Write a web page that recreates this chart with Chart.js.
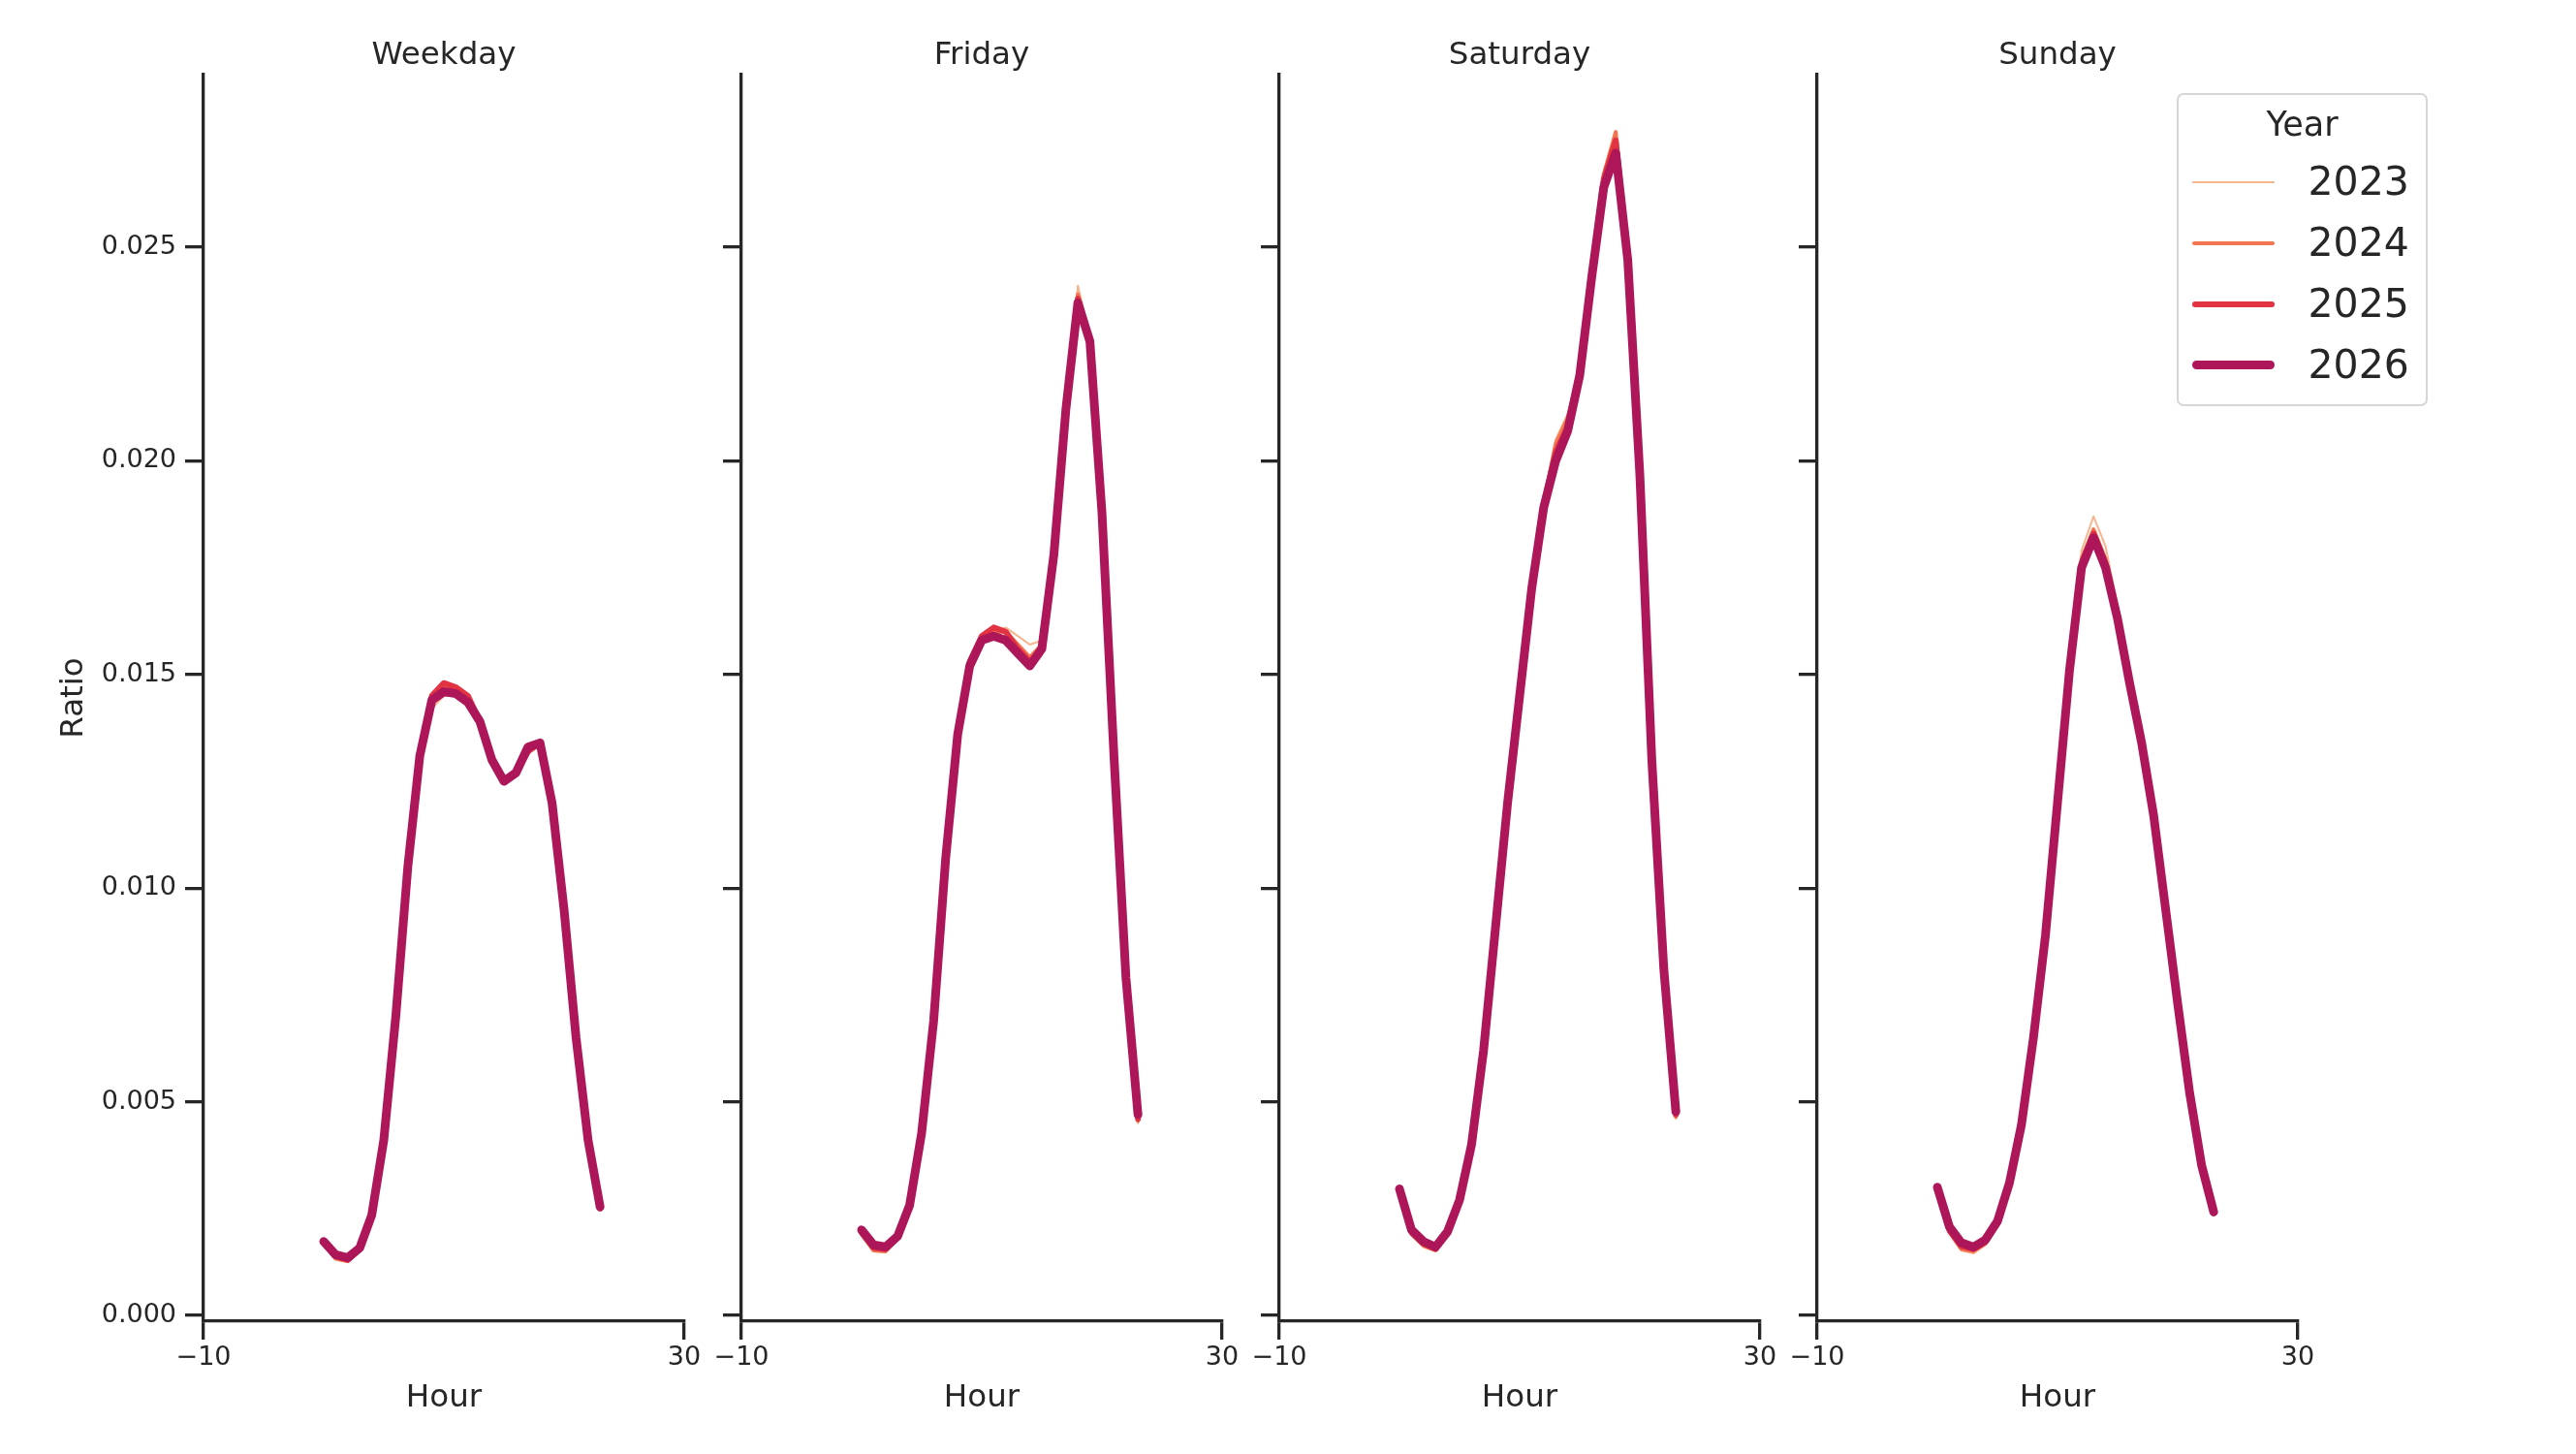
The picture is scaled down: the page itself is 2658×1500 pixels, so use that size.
<!DOCTYPE html>
<html>
<head>
<meta charset="utf-8">
<script src="https://cdn.jsdelivr.net/npm/chart.js@4.4.1/dist/chart.umd.min.js"></script>
<style>
  html, body { margin: 0; padding: 0; background: #fff; }
  #wrap { position: relative; width: 2658px; height: 1500px; overflow: hidden; font-family: 'DejaVu Sans', sans-serif; color: #262626; }
  #wrap canvas { position: absolute; top: 0; }
</style>
</head>
<body>
<div id="wrap"></div>
<script>
const hours = [0, 1, 2, 3, 4, 5, 6, 7, 8, 9, 10, 11, 12, 13, 14, 15, 16, 17, 18, 19, 20, 21, 22, 23];
const years = ['2023', '2024', '2025', '2026'];
const dayTypes = ['Weekday', 'Friday', 'Saturday', 'Sunday'];
const yTickValues = [0, 0.005, 0.010, 0.015, 0.020, 0.025];
const xTickValues = [-10, 30];

const weekday2023 = [0.00165, 0.00130, 0.00125, 0.00150, 0.00232, 0.0041, 0.0070, 0.0105, 0.0131, 0.0142, 0.0145, 0.0145, 0.0143, 0.0139, 0.0130, 0.0126, 0.0127, 0.0132, 0.0134, 0.0120, 0.0095, 0.0065, 0.0041, 0.00247];
const weekday2024 = [0.00168, 0.00133, 0.00127, 0.00152, 0.00233, 0.0041, 0.0070, 0.0105, 0.0131, 0.0144, 0.0147, 0.0146, 0.0144, 0.0139, 0.0130, 0.0125, 0.0127, 0.0132, 0.0134, 0.0120, 0.0095, 0.0065, 0.0041, 0.00248];
const weekday2025 = [0.00170, 0.00138, 0.00130, 0.00155, 0.00235, 0.0041, 0.0070, 0.0105, 0.0131, 0.0145, 0.0148, 0.0147, 0.0145, 0.0139, 0.0130, 0.0125, 0.0127, 0.0132, 0.0134, 0.0120, 0.0095, 0.0065, 0.0041, 0.00250];
const weekday2026 = [0.00173, 0.00142, 0.00135, 0.00158, 0.00235, 0.0041, 0.0070, 0.0105, 0.0131, 0.0144, 0.0146, 0.01455, 0.01435, 0.0139, 0.0130, 0.0125, 0.0127, 0.0133, 0.0134, 0.0120, 0.0095, 0.0065, 0.0041, 0.00254];

const friday2023 = [0.00188, 0.00150, 0.00148, 0.00178, 0.00255, 0.00425, 0.0069, 0.0107, 0.0136, 0.0152, 0.0158, 0.0160, 0.0161, 0.0159, 0.0157, 0.0158, 0.0179, 0.0213, 0.0241, 0.0229, 0.0188, 0.0131, 0.0079, 0.00450];
const friday2024 = [0.00190, 0.00152, 0.00150, 0.00180, 0.00256, 0.00425, 0.0069, 0.0107, 0.0136, 0.0153, 0.0159, 0.0160, 0.0160, 0.0157, 0.0154, 0.0157, 0.0178, 0.0212, 0.0239, 0.0228, 0.0188, 0.0131, 0.0079, 0.00455];
const friday2025 = [0.00195, 0.00158, 0.00155, 0.00182, 0.00258, 0.00427, 0.0069, 0.0107, 0.0136, 0.0153, 0.0159, 0.0161, 0.0160, 0.0156, 0.0153, 0.0156, 0.0178, 0.0212, 0.0238, 0.0228, 0.0188, 0.0131, 0.0079, 0.00460];
const friday2026 = [0.00200, 0.00165, 0.00160, 0.00185, 0.00258, 0.00427, 0.0069, 0.0107, 0.0136, 0.0152, 0.0158, 0.0159, 0.0158, 0.0155, 0.0152, 0.0156, 0.0178, 0.0212, 0.0237, 0.0228, 0.0188, 0.0131, 0.0079, 0.00470];

const saturday2023 = [0.00290, 0.00188, 0.00160, 0.00150, 0.00190, 0.0027, 0.0040, 0.0062, 0.0091, 0.0120, 0.0145, 0.0170, 0.0191, 0.0205, 0.0211, 0.0221, 0.0245, 0.0267, 0.0276, 0.0247, 0.0197, 0.0130, 0.0081, 0.00460];
const saturday2024 = [0.00292, 0.00190, 0.00163, 0.00152, 0.00192, 0.0027, 0.0040, 0.0062, 0.0091, 0.0120, 0.0145, 0.0170, 0.0190, 0.0204, 0.0210, 0.0221, 0.0245, 0.0267, 0.0277, 0.0247, 0.0197, 0.0130, 0.0081, 0.00465];
const saturday2025 = [0.00294, 0.00195, 0.00168, 0.00156, 0.00194, 0.0027, 0.0040, 0.0062, 0.0091, 0.0120, 0.0145, 0.0170, 0.0190, 0.0202, 0.0208, 0.0221, 0.0244, 0.0266, 0.0275, 0.0247, 0.0197, 0.0130, 0.0081, 0.00470];
const saturday2026 = [0.00296, 0.00200, 0.00173, 0.00160, 0.00196, 0.0027, 0.0040, 0.0062, 0.0091, 0.0120, 0.0145, 0.0170, 0.0189, 0.0200, 0.0207, 0.0220, 0.0243, 0.0264, 0.0272, 0.0247, 0.0197, 0.0130, 0.0081, 0.00477];

const sunday2023 = [0.00295, 0.00192, 0.00152, 0.00145, 0.00165, 0.00213, 0.0031, 0.00446, 0.0065, 0.0089, 0.0121, 0.0153, 0.0179, 0.0187, 0.0180, 0.0166, 0.0149, 0.0134, 0.0117, 0.0095, 0.0073, 0.0052, 0.0035, 0.00238];
const sunday2024 = [0.00296, 0.00195, 0.00155, 0.00150, 0.00168, 0.00215, 0.0031, 0.00446, 0.0065, 0.0089, 0.0120, 0.0152, 0.0177, 0.0184, 0.0177, 0.0164, 0.0148, 0.0134, 0.0117, 0.0095, 0.0073, 0.0052, 0.0035, 0.00240];
const sunday2025 = [0.00298, 0.00200, 0.00162, 0.00155, 0.00172, 0.00218, 0.0031, 0.00446, 0.0065, 0.0089, 0.0120, 0.0151, 0.0176, 0.0183, 0.0176, 0.0163, 0.0148, 0.0134, 0.0117, 0.0095, 0.0073, 0.0052, 0.0035, 0.00240];
const sunday2026 = [0.00300, 0.00208, 0.00170, 0.00160, 0.00177, 0.00220, 0.0031, 0.00446, 0.0065, 0.0089, 0.0120, 0.0151, 0.0175, 0.0182, 0.0175, 0.0163, 0.0148, 0.0134, 0.0117, 0.0095, 0.0073, 0.0052, 0.0035, 0.00242];

const seriesByDay = [
    [weekday2023, weekday2024, weekday2025, weekday2026],
    [friday2023, friday2024, friday2025, friday2026],
    [saturday2023, saturday2024, saturday2025, saturday2026],
    [sunday2023, sunday2024, sunday2025, sunday2026]
];

// rocket palette, light to dark; line width grows with year
const lineColors = ['#f6b48f', '#f37651', '#e13342', '#ad1759'];
const lineWidths = [2, 4, 6, 9];

const INK = '#262626';
const PANEL_STEP = 555;
const PLOT_LEFT = 210;
const PLOT_W = 496;
const PLOT_BOTTOM = 1363;
const CANVAS_W = 2 * PLOT_LEFT + PLOT_W;
const CANVAS_H = 1500;
const X_AXIS_H = 100;

Chart.defaults.font.family = "'DejaVu Sans', sans-serif";
Chart.defaults.color = INK;

const wrap = document.getElementById('wrap');

function renderPanel(i) {
    const canvas = document.createElement('canvas');
    canvas.width = CANVAS_W;
    canvas.height = CANVAS_H;
    canvas.style.left = (PANEL_STEP * i) + 'px';
    wrap.appendChild(canvas);

    const datasets = years.map((year, k) => ({
        label: year,
        data: hours.map((h, j) => ({ x: h, y: seriesByDay[i][k][j] })),
        borderColor: lineColors[k],
        backgroundColor: lineColors[k],
        borderWidth: lineWidths[k],
        borderCapStyle: 'round',
        borderJoinStyle: 'round',
        pointRadius: 0,
        tension: 0,
        fill: false,
        order: years.length - k
    }));

    const axisLine = { display: true, color: INK, width: 3.3 };
    const tickMarks = {
        drawOnChartArea: false, drawTicks: true, tickLength: 19,
        tickWidth: 3.3, tickColor: INK, lineWidth: 3.3, color: INK
    };

    new Chart(canvas.getContext('2d'), {
        type: 'line',
        data: { datasets: datasets },
        options: {
            responsive: false,
            animation: false,
            devicePixelRatio: 1,
            layout: {
                padding: {
                    left: 0,
                    right: CANVAS_W - PLOT_LEFT - PLOT_W,
                    top: 38,
                    bottom: CANVAS_H - PLOT_BOTTOM - X_AXIS_H
                }
            },
            plugins: {
                legend: { display: false },
                tooltip: { enabled: false },
                title: {
                    display: true,
                    fullSize: false,
                    text: dayTypes[i],
                    color: INK,
                    font: { size: 32.5, weight: 'normal' },
                    padding: { top: 0, bottom: 0 }
                }
            },
            scales: {
                x: {
                    type: 'linear',
                    min: -10,
                    max: 30,
                    afterBuildTicks: axis => { axis.ticks = xTickValues.map(v => ({ value: v })); },
                    afterFit: axis => { axis.height = X_AXIS_H; },
                    grid: tickMarks,
                    border: axisLine,
                    ticks: {
                        color: INK,
                        font: { size: 27 },
                        padding: 3,
                        maxRotation: 0,
                        autoSkip: false,
                        callback: v => v < 0 ? '\u2212' + Math.abs(v) : String(v)
                    },
                    title: {
                        display: true,
                        text: 'Hour',
                        color: INK,
                        font: { size: 32.5 },
                        padding: { top: 0, bottom: 0.5 }
                    }
                },
                y: {
                    type: 'linear',
                    min: -0.000136,
                    max: 0.02904,
                    afterBuildTicks: axis => { axis.ticks = yTickValues.map(v => ({ value: v })); },
                    afterFit: axis => { axis.width = PLOT_LEFT; },
                    grid: tickMarks,
                    border: axisLine,
                    ticks: {
                        color: INK,
                        font: { size: 27 },
                        padding: 9,
                        autoSkip: false,
                        callback: v => i === 0 ? v.toFixed(3) : ''
                    },
                    title: {
                        display: i === 0,
                        text: 'Ratio',
                        color: INK,
                        font: { size: 32.5 },
                        padding: { top: 57, bottom: 0 }
                    }
                }
            }
        }
    });
}

dayTypes.forEach((d, i) => renderPanel(i));

// legend box drawn over the last panel, as in the original
function renderLegend() {
    const box = document.createElement('div');
    box.style.cssText = 'position:absolute;left:2246px;top:96px;width:259px;height:323px;box-sizing:border-box;' +
        'border:2.5px solid #d6d6d6;border-radius:7px;background:rgba(255,255,255,0.85);';
    const originY = 96 + 2.5;
    const originX = 2246 + 2.5;

    const title = document.createElement('div');
    title.textContent = 'Year';
    title.style.cssText = 'position:absolute;left:0;width:100%;text-align:center;font-size:35px;line-height:35px;top:' +
        (111.4 - originY) + 'px;';
    box.appendChild(title);

    years.forEach((year, k) => {
        const cy = 188 + 63 * k;
        const w = lineWidths[k];
        const line = document.createElement('div');
        line.style.cssText = 'position:absolute;left:' + (2262 - originX) + 'px;width:85px;height:' + w + 'px;top:' +
            (cy - originY - w / 2) + 'px;border-radius:' + (w / 2) + 'px;background:' + lineColors[k] + ';';
        box.appendChild(line);

        const label = document.createElement('div');
        label.textContent = year;
        label.style.cssText = 'position:absolute;left:' + (2382 - originX) + 'px;font-size:41px;line-height:41px;top:' +
            (cy - originY - 20.5) + 'px;';
        box.appendChild(label);
    });

    wrap.appendChild(box);
}

renderLegend();
</script>
</body>
</html>
